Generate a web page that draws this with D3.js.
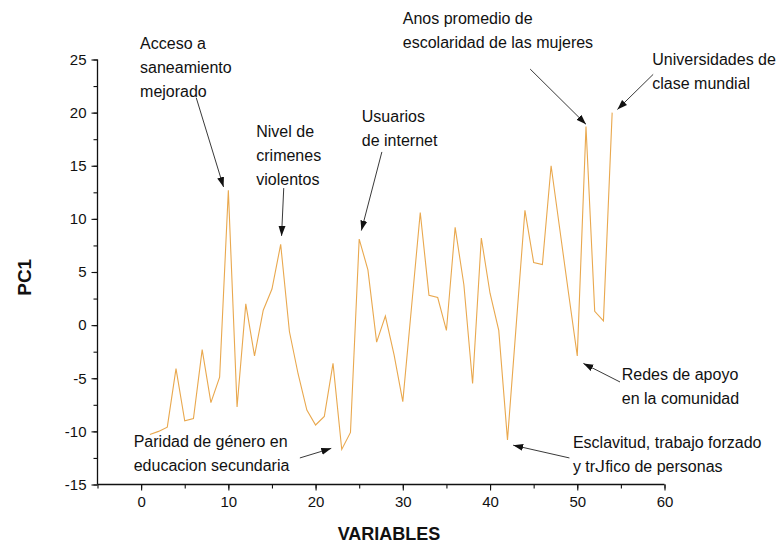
<!DOCTYPE html>
<html>
<head>
<meta charset="utf-8">
<script src="https://cdn.jsdelivr.net/npm/d3@7"></script>
<style>
  body { margin: 0; background: #fff; }
  svg { display: block; font-family: "Liberation Sans", Arial, sans-serif; }
</style>
</head>
<body>
<svg id="chart" width="778" height="544"></svg>
<script>
// ---- data ----
const variables = d3.range(1, 55);
const pc1 = [
  -10.3, -10.0, -9.6, -4.1, -9.0, -8.8, -2.3, -7.3, -4.9, 12.7,
  -7.7, 2.0, -2.9, 1.4, 3.4, 7.6, -0.6, -4.6, -8.0, -9.4,
  -8.6, -3.6, -11.7, -10.1, 8.1, 5.2, -1.6, 0.85, -2.8, -7.2,
  1.7, 10.6, 2.8, 2.6, -0.5, 9.2, 3.8, -5.5, 8.2, 3.0,
  -0.5, -10.8, 0.0, 10.8, 5.9, 5.7, 15.0, 9.0, 3.0, -2.9,
  18.7, 1.3, 0.4, 20.0
];
const xTicks = [0, 10, 20, 30, 40, 50, 60];
const yTicks = [-15, -10, -5, 0, 5, 10, 15, 20, 25];
const xMinorTicks = d3.range(-5, 61, 5);
const yMinorTicks = d3.range(-15, 25.1, 2.5);

// annotation text lines, text anchor (data units), arrow start and tip (data units)
const annoLines = [
  ["Acceso a", "saneamiento", "mejorado"],
  ["Nivel de", "crimenes", "violentos"],
  ["Usuarios", "de internet"],
  ["Anos promedio de", "escolaridad de las mujeres"],
  ["Universidades de", "clase mundial"],
  ["Redes de apoyo", "en la comunidad"],
  ["Esclavitud, trabajo forzado", "y tr\u148Dfico de personas"],
  ["Paridad de género en", "educacion secundaria"]
];
const annoText = [[-0.12, 26.0], [13.2, 17.7], [25.3, 19.1], [30.0, 28.3], [58.6, 24.5], [55.1, -5.2], [49.5, -11.6], [-0.85, -11.5]];
const arrowFrom = [[6.32, 21.4], [16.35, 12.9], [27.6, 16.3], [44.6, 24.1], [58.7, 23.6], [54.9, -5.35], [49.1, -12.5], [18.2, -12.5]];
const arrowTo = [[9.45, 13.0], [16.1, 8.4], [25.25, 8.9], [51.0, 18.9], [54.6, 20.3], [50.7, -3.6], [42.65, -11.3], [21.8, -11.6]];

// ---- layout ----
const svg = d3.select("#chart");
const margin = { left: 97.5, top: 59.5, right: 113.5, bottom: 59.5 };
const W = 778, H = 544;
const x = d3.scaleLinear().domain([-5, 60]).range([margin.left, W - margin.right]);
const y = d3.scaleLinear().domain([-15, 25]).range([H - margin.bottom, margin.top]);
const fmt = d => String(d);

// axes
const xAxis = svg.append("g").attr("transform", `translate(0,${y(-15)})`)
  .call(d3.axisBottom(x).tickValues(xTicks).tickSize(6).tickPadding(6).tickFormat(fmt));
svg.append("g").attr("transform", `translate(0,${y(-15)})`)
  .call(d3.axisBottom(x).tickValues(xMinorTicks).tickSize(4).tickFormat(""))
  .select(".domain").remove();
const yAxis = svg.append("g").attr("transform", `translate(${x(-5)},0)`)
  .call(d3.axisLeft(y).tickValues(yTicks).tickSize(6).tickPadding(5).tickFormat(fmt));
svg.append("g").attr("transform", `translate(${x(-5)},0)`)
  .call(d3.axisLeft(y).tickValues(yMinorTicks).tickSize(4).tickFormat(""))
  .select(".domain").remove();

svg.selectAll(".domain").attr("stroke", "#111").attr("stroke-width", 1.3);
svg.selectAll(".tick line").attr("stroke", "#111").attr("stroke-width", 1.1);
svg.selectAll(".tick text").attr("font-size", 15).attr("fill", "#111")
  .attr("font-family", "Liberation Sans, Arial, sans-serif");
xAxis.selectAll(".domain").attr("d", `M${x(-5)},0H${x(60)}`);
yAxis.selectAll(".domain").attr("d", `M0,${y(-15)}V${y(25)}`);

// axis titles
svg.append("text").attr("x", (x(-5) + x(60)) / 2 + 8).attr("y", 540)
  .attr("text-anchor", "middle").attr("font-size", 18).attr("font-weight", "bold")
  .attr("fill", "#111").text("VARIABLES");
svg.append("text").attr("transform", `translate(31,${y(4.5)}) rotate(-90)`)
  .attr("text-anchor", "middle").attr("font-size", 19).attr("font-weight", "bold")
  .attr("fill", "#111").text("PC1");

// line
const line = d3.line().x((d, i) => x(variables[i])).y(d => y(d));
svg.append("path").datum(pc1).attr("d", line)
  .attr("fill", "none").attr("stroke", "#e9a84e").attr("stroke-width", 1.1)
  .attr("stroke-linejoin", "miter");

// arrowhead marker
svg.append("defs").append("marker").attr("id", "arrow")
  .attr("viewBox", "0 -4 10 8").attr("refX", 10).attr("refY", 0)
  .attr("markerWidth", 10).attr("markerHeight", 8)
  .attr("markerUnits", "userSpaceOnUse").attr("orient", "auto")
  .append("path").attr("d", "M0,-3.5L10,0L0,3.5Z").attr("fill", "#111");

// annotations
const annos = svg.append("g");
annoLines.forEach((lines, i) => {
  annos.append("line")
    .attr("x1", x(arrowFrom[i][0])).attr("y1", y(arrowFrom[i][1]))
    .attr("x2", x(arrowTo[i][0])).attr("y2", y(arrowTo[i][1]))
    .attr("stroke", "#222").attr("stroke-width", 0.9).attr("marker-end", "url(#arrow)");
  const t = annos.append("text").attr("x", x(annoText[i][0])).attr("y", y(annoText[i][1]))
    .attr("font-size", 16).attr("fill", "#111");
  lines.forEach((s, j) => {
    t.append("tspan").attr("x", x(annoText[i][0])).attr("dy", j === 0 ? 0 : 24).text(s);
  });
});
</script>
</body>
</html>
